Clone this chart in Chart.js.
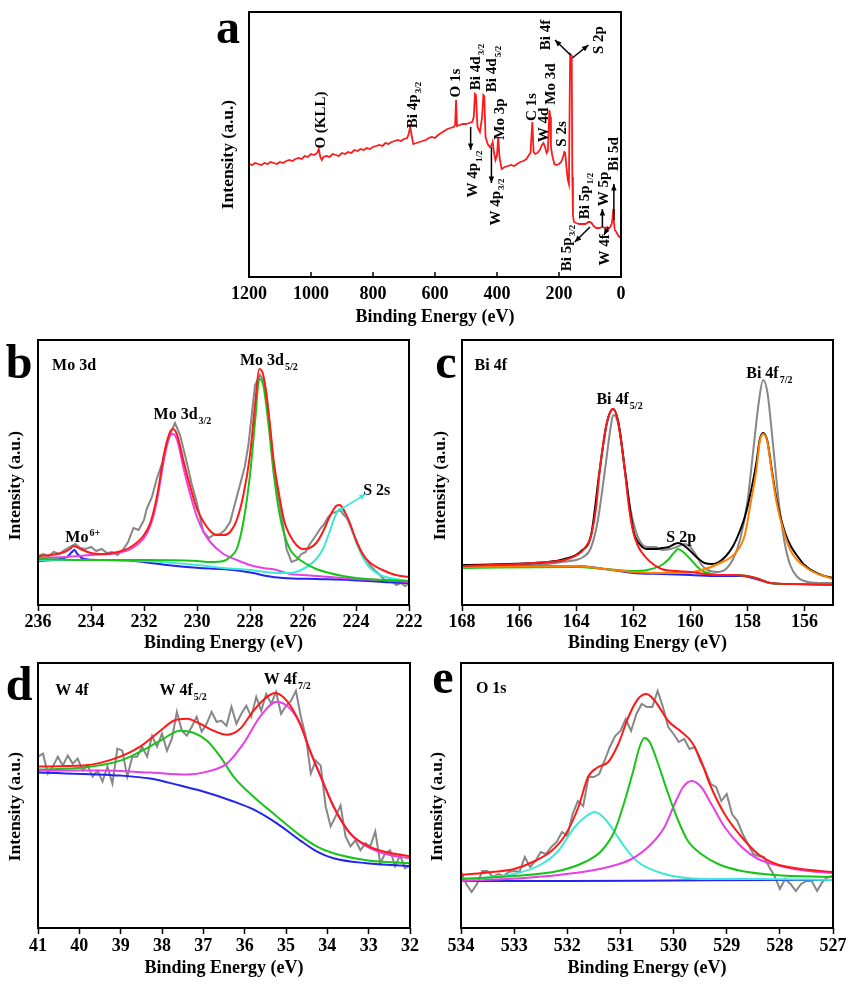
<!DOCTYPE html>
<html lang="en">
<head>
<meta charset="UTF-8">
<title>XPS spectra</title>
<script src="https://cdn.jsdelivr.net/npm/chart.js"></script>
<style>
  body { margin: 0; background: #fff; }
  #wrap { position: relative; width: 850px; height: 987px; background: #fff; overflow: hidden; }
  #wrap canvas { position: absolute; }
</style>
</head>
<body>
<div id="wrap">
  <canvas id="chartA" width="450" height="335" style="left:200px;top:0px"></canvas>
  <canvas id="chartB" width="425" height="335" style="left:0px;top:325px"></canvas>
  <canvas id="chartC" width="425" height="335" style="left:425px;top:325px"></canvas>
  <canvas id="chartD" width="425" height="339" style="left:0px;top:648px"></canvas>
  <canvas id="chartE" width="425" height="339" style="left:425px;top:648px"></canvas>
</div>
<script>
// ---- data: [binding energy (eV), intensity (a.u.)] ----
const aTicks = [1200, 1000, 800, 600, 400, 200, 0];
const aSurvey = [[1200,113],[1190,112],[1180,114],[1170,113],[1160,112],[1150,114],[1140,113],[1130,115],[1120,114],[1110,113],
  [1100,115],[1090,114],[1080,116],[1070,117],[1060,116],[1050,118],[1040,119],[1030,118],[1020,121],[1010,120],[1000,123],
  [990,122],[980,124],[975,128],[970,120],[965,117],[960,120],[950,121],[940,120],[930,123],[920,122],[910,121],[900,124],
  [890,123],[880,125],[870,124],[860,127],[850,126],[840,128],[830,127],[820,129],[810,128],[800,130],[790,131],[780,132],
  [770,131],[760,134],[750,133],[740,135],[730,136],[720,137],[710,136],[700,138],[690,139],[685,143],[680,150],[675,141],
  [670,133],[660,134],[650,135],[640,136],[630,137],[620,139],[610,140],[600,139],[590,142],[580,144],[570,146],[560,148],
  [550,149],[540,150],[535,152],[532,177],[529,151],[520,152],[510,153],[500,153],[490,154],[480,155],[475,160],[471,183],
  [468,182],[463,150],[455,145],[448,160],[444,182],[441,181],[437,140],[430,133],[423,130],[417,132],[414,135],[410,125],
  [405,117],[400,122],[396,140],[392,120],[385,108],[375,110],[365,111],[355,112],[345,111],[335,113],[325,115],[315,116],
  [305,118],[297,122],[292,124],[286,155],[282,125],[277,123],[270,124],[262,127],[255,132],[250,134],[245,130],[240,124],
  [236,126],[233,150],[231,167],[228,160],[226,130],[222,122],[215,113],[208,112],[200,113],[193,115],[187,120],[183,125],
  [180,124],[176,110],[172,98],[168,93],[166,160],[164,223],[161,222],[159,220],[157,100],[155,62],[152,55],[145,54],
  [135,53],[125,53],[115,53],[105,55],[100,55],[95,54],[88,51],[80,49],[70,49],[60,50],[52,49],[45,50],[40,48],[35,50],
  [30,53],[27,60],[25,68],[23,55],[20,47],[15,45],[10,42],[5,40],[0,39]];

const bTicks = [236, 234, 232, 230, 228, 226, 224, 222];
const bRed = [[236,46],[235.5,47],[235,50],[234.8,53],[234.65,56],[234.4,53],[234,49],[233.5,48],[233,50],[232.5,55],[232,67],
  [231.75,80],[231.5,107],[231.25,147],[231,171],[230.9,173],[230.75,167],[230.5,140],[230.25,115],[230,93],[229.75,80],
  [229.5,71],[229.25,67],[229,67],[228.75,70],[228.5,82],[228.25,107],[228,147],[227.8,200],[227.65,233],[227.5,227],
  [227.3,190],[227.1,140],[226.9,107],[226.7,80],[226.5,67],[226.25,57],[226,53],[225.75,54],[225.5,59],[225.25,70],
  [225,85],[224.75,96],[224.62,97],[224.5,94],[224.25,80],[224,62],[223.75,48],[223.5,40],[223,32],[222.5,27],[222,25]];
const bMagenta = [[236,44],[235,45],[234,47],[233,49],[232.5,53],[232,64],[231.75,77],[231.5,103],[231.25,142],[231,167],
  [230.9,168],[230.75,162],[230.5,133],[230.25,107],[230,85],[229.75,70],[229.5,60],[229,48],[228.5,42],[228,37],[227.5,34],
  [227,32],[226.5,28],[226,27],[225,25],[224,23],[223,22],[222,20]];
const bGreen = [[236,43],[234,42],[232,42],[230,41],[229.5,40],[229,41],[228.75,45],[228.5,53],[228.25,80],[228,127],
  [227.8,183],[227.65,223],[227.5,217],[227.3,177],[227.1,127],[226.9,90],[226.7,67],[226.5,53],[226.25,45],[226,40],
  [225.5,33],[225,29],[224.5,26],[224,24],[223,22],[222,21]];
const bCyan = [[236,42],[234,42],[232,41],[230,37],[229,34],[228,32],[227,29],[226.5,29],[226,33],[225.5,43],[225.25,53],
  [225,70],[224.75,88],[224.6,93],[224.4,88],[224.2,75],[224,60],[223.75,45],[223.5,35],[223,26],[222.5,23],[222,21]];
const bBlue = [[236,41],[235.16,43],[234.91,45],[234.72,50],[234.63,52],[234.51,48],[234.28,43],[233.65,42],[232.4,41],
  [231.14,37],[229.89,34],[228.63,32],[227.88,29],[227.37,26],[226.75,24],[225.49,23],[224.23,22],[222.98,20],[222,19]];
const bGray = [[236,46],[235.8,48],[235.6,46],[235.4,50],[235.2,48],[235,52],[234.8,55],[234.6,58],[234.4,54],[234.2,53],
  [234,55],[233.8,51],[233.6,53],[233.4,49],[233.2,50],[233,47],[232.8,52],[232.6,60],[232.4,74],[232.2,72],[232,82],
  [231.9,93],[231.7,105],[231.52,123],[231.3,140],[231.14,160],[230.95,172],[230.83,179],[230.64,167],[230.39,140],
  [230.2,118],[230.01,100],[229.76,70],[229.55,64],[229.38,67],[229.13,68],[228.95,72],[228.75,80],[228.55,100],
  [228.38,117],[228.2,135],[228.06,157],[227.81,217],[227.62,227],[227.45,220],[227.37,207],[227.12,140],[226.95,108],
  [226.81,87],[226.62,53],[226.43,40],[226.24,42],[226.06,48],[225.9,50],[225.74,58],[225.55,65],[225.36,73],[225.2,78],
  [225.05,85],[224.9,89],[224.74,90],[224.6,92],[224.49,88],[224.35,84],[224.23,77],[224.05,65],[223.86,53],[223.65,44],
  [223.48,37],[223.3,32],[223.1,27],[222.85,20],[222.7,22],[222.48,17],[222.3,19],[222.15,16],[222,18]];

const cTicks = [168, 166, 164, 162, 160, 158, 156];
const cRed = [[168,36],[167,37],[166,38],[165,40],[164.4,42],[163.82,50],[163.6,58],[163.47,67],[163.3,95],[163.18,130],
  [163.05,158],[162.94,177],[162.82,189],[162.71,193],[162.62,190],[162.53,180],[162.42,160],[162.3,133],[162.15,95],
  [162,70],[161.85,57],[161.71,50],[161.4,40],[161.01,33],[160.5,31],[160,30],[159.5,28],[159,27],[158.5,27],[158,26],
  [157.6,23],[157.2,19],[156.5,18],[155,17]];
const cOrange = [[168,35],[164,36],[163,33],[162,30],[161,29],[160.2,29],[159.61,32],[159.03,38],[158.39,50],[158.09,67],
  [157.88,100],[157.68,133],[157.57,160],[157.45,168],[157.3,160],[157.16,133],[156.98,100],[156.69,67],[156.46,50],
  [155.87,33],[155,23]];
const cBlack = [[168,37],[165,40],[164.4,43],[163.82,51],[163.47,68],[163.18,131],[162.94,177],[162.71,193],[162.53,181],
  [162.3,134],[162,72],[161.75,57],[161.5,53],[161.2,53],[161,54],[160.75,55],[160.55,58],[160.43,59],[160.25,57],
  [160,51],[159.75,44],[159.5,39],[159.25,38],[159,40],[158.75,46],[158.5,56],[158.25,72],[158.09,85],[157.88,110],
  [157.68,140],[157.57,162],[157.45,169],[157.3,161],[157.16,135],[156.98,103],[156.69,70],[156.46,55],[156.25,46],
  [156,37],[155.5,28],[155,24]];
const cGreen = [[168,34],[164,35],[163,33],[162,31],[161.5,32],[161,37],[160.75,43],[160.55,50],[160.43,53],[160.25,50],
  [160,43],[159.75,35],[159.5,30],[159,27],[158.5,27],[158,26],[157.6,23],[157.2,19],[156.8,18],[155,18]];
const cBlue = [[168,36],[166,36],[164,36],[163.5,35],[163,33],[162.5,31],[162,29],[161,28],[160,27],[159,26],[158.2,26],
  [157.7,23],[157.2,19],[156.8,18],[156,18],[155,17]];
const cGray = [[168,37],[166,37],[165,38],[164.5,40],[164,42],[163.75,45],[163.5,53],[163.25,80],[163,130],[162.8,173],
  [162.7,187],[162.6,185],[162.45,167],[162.3,133],[162.1,93],[161.9,70],[161.7,58],[161.5,55],[161.2,55],[161,52],
  [160.7,53],[160.4,56],[160.2,58],[160,55],[159.8,47],[159.6,37],[159.4,32],[159,30],[158.75,33],[158.5,43],
  [158.25,63],[158,100],[157.8,150],[157.6,200],[157.45,222],[157.3,210],[157.1,157],[156.9,100],[156.7,60],[156.5,37],
  [156.25,25],[156,21],[155.5,19],[155,19]];

const dTicks = [41, 40, 39, 38, 37, 36, 35, 34, 33, 32];
const dRed = [[41,162],[39.9,163],[39.01,172],[38.53,182],[38.04,198],[37.72,208],[37.4,210],[37.08,205],[36.75,198],
  [36.43,194],[36.11,200],[35.79,218],[35.46,232],[35.26,236],[34.98,228],[34.66,205],[34.42,178],[34.09,145],
  [33.85,122],[33.45,95],[33.05,83],[32.56,76],[32,72]];
const dMagenta = [[41,158],[39.49,158],[38.28,156],[37.4,154],[36.91,157],[36.43,165],[36.03,185],[35.63,212],[35.22,227],
  [34.9,220],[34.66,205],[34.42,178],[34.09,145],[33.85,122],[33.45,95],[33.05,82],[32.56,74],[32,70]];
const dGreen = [[41,159],[39.9,161],[39.01,168],[38.53,177],[38.04,188],[37.56,198],[37.24,196],[36.91,188],[36.59,172],
  [36.27,152],[35.79,132],[35.22,112],[34.66,93],[34.26,82],[33.85,75],[33.05,68],[32,65]];
const dBlue = [[41,156],[39,153],[38.28,150],[37.56,143],[37.08,138],[36.27,127],[35.79,119],[35.22,105],[34.66,88],
  [34.26,77],[33.85,70],[33.05,65],[32,62]];
const dGrayX = [41,40.88,40.76,40.64,40.52,40.4,40.28,40.16,40.04,39.92,39.8,39.68,39.56,39.44,39.32,39.2,39.08,38.96,
  38.84,38.72,38.6,38.48,38.36,38.24,38.12,38,37.88,37.76,37.64,37.52,37.4,37.28,37.16,37.04,36.92,36.8,36.68,36.56,
  36.44,36.32,36.2,36.08,35.96,35.84,35.72,35.6,35.48,35.36,35.24,35.12,35,34.88,34.76,34.64,34.52,34.4,34.28,34.16,
  34.04,33.92,33.8,33.68,33.56,33.44,33.32,33.2,33.08,32.96,32.84,32.72,32.6,32.48,32.36,32.24,32.12,32];
const dGrayY = [172,175,155,162,172,163,173,165,170,158,163,152,158,147,162,145,180,178,152,172,172,182,172,193,182,195,
  178,190,217,198,193,202,212,197,205,217,207,208,203,222,205,215,223,212,232,218,235,225,237,215,223,228,238,212,192,
  155,168,163,122,102,112,123,92,82,88,78,85,82,97,65,75,78,62,73,60,63];

const eTicks = [534, 533, 532, 531, 530, 529, 528, 527];
const eRed = [[534,53],[533.42,56],[533,59],[532.61,67],[532.3,77],[532.05,92],[531.79,121],[531.61,151],[531.42,161],
  [531.23,166],[531.04,184],[530.85,211],[530.67,229],[530.51,234],[530.35,227],[530.1,207],[529.85,196],[529.66,186],
  [529.48,167],[529.32,144],[529.04,114],[528.72,91],[528.41,74],[528.07,64],[527.6,59],[527,56]];
const eGreen = [[534,49],[533,52],[532.17,57],[531.67,66],[531.36,77],[531.11,97],[530.92,127],[530.76,157],[530.64,181],
  [530.55,190],[530.45,186],[530.29,164],[530.1,134],[529.91,107],[529.73,87],[529.48,74],[529.16,64],[528.72,57],
  [528.1,53],[527,51]];
const eMagenta = [[534,47],[532.8,50],[531.86,55],[531.23,61],[530.79,69],[530.42,84],[530.17,101],[529.98,124],
  [529.82,141],[529.66,147],[529.48,141],[529.29,124],[529.04,101],[528.72,81],[528.41,69],[527.91,61],[527.47,57],[527,55]];
const eCyan = [[534,48],[533,54],[532.48,64],[532.17,77],[531.86,101],[531.64,112],[531.48,116],[531.29,109],[531.11,96],
  [530.92,81],[530.67,66],[530.29,56],[529.91,51],[529.35,49],[528.41,49],[527,48]];
const eBlue = [[534,47],[532,47],[530,47.5],[528,48],[527,48]];
const eGrayX = [534,533.9,533.8,533.7,533.6,533.5,533.4,533.3,533.2,533.1,533,532.9,532.8,532.7,532.6,532.5,532.4,532.3,
  532.2,532.1,532,531.9,531.8,531.7,531.6,531.5,531.4,531.3,531.2,531.1,531,530.9,530.8,530.7,530.6,530.5,530.4,530.3,
  530.2,530.1,530,529.9,529.8,529.7,529.6,529.5,529.4,529.3,529.2,529.1,529,528.9,528.8,528.7,528.6,528.5,528.4,528.3,
  528.2,528.1,528,527.9,527.8,527.7,527.6,527.5,527.4,527.3,527.2,527.1,527];
const eGrayY = [56,44,36,44,57,57,51,54,52,56,57,56,71,61,67,76,74,81,86,96,92,114,127,122,151,151,154,167,181,192,
  197,209,197,214,224,221,221,237,221,201,194,186,189,179,181,167,157,144,141,127,134,114,107,94,84,74,72,71,61,52,
  39,49,44,37,44,47,47,37,46,51,52];

// ---- annotations (data coordinates) ----
const aLabels = [
  {x: 972, y: 157, t: 'O (KLL)'}, {x: 674, y: 172, t: 'Bi 4p', sub: '3/2'}, {x: 534, y: 194, t: 'O 1s'},
  {x: 471, y: 210, t: 'Bi 4d', sub: '3/2'}, {x: 418, y: 208, t: 'Bi 4d', sub: '5/2'}, {x: 393, y: 158, t: 'Mo 3p'},
  {x: 479, y: 103, t: 'W 4p', sub: '1/2'}, {x: 407, y: 75, t: 'W 4p', sub: '3/2'}, {x: 291, y: 170, t: 'C 1s'},
  {x: 251, y: 152, t: 'W 4d'}, {x: 229, y: 193, t: 'Mo 3d'}, {x: 194, y: 143, t: 'S 2s'}, {x: 245, y: 242, t: 'Bi 4f'},
  {x: 73, y: 237, t: 'S 2p'}, {x: 25, y: 123, t: 'Bi 5d'}, {x: 57, y: 88, t: 'W 5p'}, {x: 119, y: 81, t: 'Bi 5p', sub: '1/2'},
  {x: 178, y: 29, t: 'Bi 5p', sub: '3/2'}, {x: 55, y: 27, t: 'W 4f'}
];
const aArrows = [[485,150,485,127],[418,130,418,94],[163,222,213,237],[157,219,105,232],[23,57,23,93],[60,50,60,68],
  [100,50,149,35],[41,50,55,42]];
const bLabels = [
  {x: 235.47, y: 237, t: 'Mo 3d'}, {x: 231.64, y: 188, t: 'Mo 3d', sub: '3/2'}, {x: 228.38, y: 242, t: 'Mo 3d', sub: '5/2'},
  {x: 223.73, y: 112, t: 'S 2s'}, {x: 234.97, y: 65, t: 'Mo', sup: '6+'}
];
const bArrows = [[224.61, 92, 223.63, 108, '#3ee8d5']];
const cLabels = [
  {x: 167.56, y: 237, t: 'Bi 4f'}, {x: 163.29, y: 203, t: 'Bi 4f', sub: '5/2'}, {x: 160.84, y: 65, t: 'S 2p'},
  {x: 158.04, y: 229, t: 'Bi 4f', sub: '7/2'}
];
const dLabels = [
  {x: 40.58, y: 239, t: 'W 4f'}, {x: 38.06, y: 239, t: 'W 4f', sub: '5/2'}, {x: 35.54, y: 250, t: 'W 4f', sub: '7/2'}
];
const eLabels = [{x: 533.72, y: 240, t: 'O 1s'}];

// ---- drawing ----
const SERIF = "'Liberation Serif', 'Times New Roman', serif";
const RED = '#ff1a1a', GRAY = '#878787', GREEN = '#18c418', MAGENTA = '#e640e6',
      CYAN = '#3ee8d5', BLUE = '#2424f0', ORANGE = '#ff8000';

function drawRich(ctx, item, x, y, size, align) {
  const mainFont = `bold ${size}px ${SERIF}`;
  const smallFont = `bold ${Math.round(size * 0.62)}px ${SERIF}`;
  ctx.font = mainFont;
  const w1 = ctx.measureText(item.t).width;
  const extra = item.sub || item.sup || '';
  ctx.font = smallFont;
  const w2 = extra ? ctx.measureText(extra).width + 1 : 0;
  const x0 = align === 'center' ? x - (w1 + w2) / 2 : x;
  const base = y + size * 0.33;
  ctx.textAlign = 'left';
  ctx.textBaseline = 'alphabetic';
  ctx.font = mainFont;
  ctx.fillText(item.t, x0, base);
  ctx.font = smallFont;
  if (item.sub) ctx.fillText(item.sub, x0 + w1 + 1, base + size * 0.28);
  if (item.sup) ctx.fillText(item.sup, x0 + w1 + 1, base - size * 0.42);
}

function drawArrow(ctx, x1, y1, x2, y2, color) {
  ctx.strokeStyle = color;
  ctx.fillStyle = color;
  ctx.lineWidth = 1.5;
  ctx.beginPath(); ctx.moveTo(x1, y1); ctx.lineTo(x2, y2); ctx.stroke();
  const a = Math.atan2(y2 - y1, x2 - x1), h = 7;
  ctx.beginPath();
  ctx.moveTo(x2, y2);
  ctx.lineTo(x2 - h * Math.cos(a - 0.4), y2 - h * Math.sin(a - 0.4));
  ctx.lineTo(x2 - h * Math.cos(a + 0.4), y2 - h * Math.sin(a + 0.4));
  ctx.closePath(); ctx.fill();
}

// box, panel letter, y title, peak labels and arrows
const framePlugin = {
  id: 'frame',
  afterDatasetsDraw(chart, args, opts) {
    const {ctx, chartArea: a, scales: {x, y}} = chart;
    ctx.save();
    ctx.fillStyle = '#000';
    (opts.labels || []).forEach(l => {
      const px = x.getPixelForValue(l.x), py = y.getPixelForValue(l.y);
      ctx.fillStyle = '#000';
      if (opts.rotate) {
        ctx.save();
        ctx.translate(px, py);
        ctx.rotate(-Math.PI / 2);
        drawRich(ctx, l, 0, 0, opts.labelSize, 'center');
        ctx.restore();
      } else {
        drawRich(ctx, l, px, py, opts.labelSize, 'left');
      }
    });
    (opts.arrows || []).forEach(r => drawArrow(ctx, x.getPixelForValue(r[0]), y.getPixelForValue(r[1]),
      x.getPixelForValue(r[2]), y.getPixelForValue(r[3]), r[4] || '#000'));

    ctx.strokeStyle = '#000';
    if (opts.inTicks) {
      ctx.lineWidth = 1.5;
      x.ticks.forEach(t => {
        const px = x.getPixelForValue(t.value);
        ctx.beginPath(); ctx.moveTo(px, a.bottom); ctx.lineTo(px, a.bottom - 5); ctx.stroke();
      });
    }
    ctx.lineWidth = 2;
    ctx.strokeRect(a.left, a.top, a.right - a.left, a.bottom - a.top);

    ctx.fillStyle = '#000';
    ctx.font = `bold 48px ${SERIF}`;
    ctx.textAlign = 'center';
    ctx.textBaseline = 'alphabetic';
    ctx.fillText(opts.letter, a.left + opts.letterAt[0], a.top + opts.letterAt[1]);

    ctx.save();
    ctx.translate(a.left + opts.yTitleAt[0], (a.top + a.bottom) / 2 + opts.yTitleAt[1]);
    ctx.rotate(-Math.PI / 2);
    ctx.font = `bold 17.5px ${SERIF}`;
    ctx.textBaseline = 'middle';
    ctx.fillText('Intensity (a.u.)', 0, 0);
    ctx.restore();
    ctx.restore();
  }
};

function series(points, color, smooth, width) {
  return {
    data: points.map(p => ({x: p[0], y: p[1]})),
    showLine: true,
    borderColor: color,
    borderWidth: width || 2,
    pointRadius: 0,
    fill: false,
    cubicInterpolationMode: smooth ? 'monotone' : 'default',
    tension: 0
  };
}

function zip(xs, ys) { return xs.map((v, i) => [v, ys[i]]); }

function makeChart(id, p) {
  return new Chart(document.getElementById(id), {
    type: 'scatter',
    data: {datasets: p.datasets},
    options: {
      responsive: false,
      animation: false,
      devicePixelRatio: 1,
      layout: {padding: {left: p.pad[0], top: p.pad[1], right: p.pad[2], bottom: 0}},
      scales: {
        x: {
          type: 'linear', reverse: true, min: p.xMin, max: p.xMax,
          afterBuildTicks: s => { s.ticks = p.ticks.map(v => ({value: v})); },
          afterFit: s => { s.height = p.axisH; },
          ticks: {autoSkip: false, maxRotation: 0, padding: p.tickPad, color: '#000',
                  font: {family: SERIF, size: 18, weight: 'bold'}, callback: v => String(v)},
          grid: {display: true, drawOnChartArea: false, drawTicks: !p.frame.inTicks, tickLength: 6,
                 tickWidth: 1.5, tickColor: '#000', color: '#000'},
          border: {display: false},
          title: {display: true, text: 'Binding Energy (eV)', color: '#000',
                  font: {family: SERIF, size: 18, weight: 'bold'}, padding: {top: 0, bottom: p.titlePad}}
        },
        y: {display: false, min: p.yMin, max: p.yMax}
      },
      plugins: {legend: {display: false}, tooltip: {enabled: false}, frame: p.frame}
    },
    plugins: [framePlugin]
  });
}

makeChart('chartA', {
  datasets: [series(aSurvey, RED, false, 1.8)],
  xMin: 0, xMax: 1200, yMin: 0, yMax: 265, ticks: aTicks,
  pad: [49, 12, 29], axisH: 58, tickPad: 7, titlePad: 7,
  frame: {letter: 'a', letterAt: [-21, 31], yTitleAt: [-21, 10], labels: aLabels, arrows: aArrows,
          labelSize: 15, rotate: true, inTicks: true}
});

makeChart('chartB', {
  datasets: [series(bRed, RED, true), series(bGreen, GREEN, true), series(bCyan, CYAN, true),
             series(bMagenta, MAGENTA, true), series(bBlue, BLUE, true), series(bGray, GRAY, false)],
  xMin: 222, xMax: 236, yMin: -3, yMax: 262, ticks: bTicks,
  pad: [38, 15, 16], axisH: 55, tickPad: 1, titlePad: 6,
  frame: {letter: 'b', letterAt: [-19, 38], yTitleAt: [-23, 13], labels: bLabels, arrows: bArrows, labelSize: 16}
});

makeChart('chartC', {
  datasets: [series(cRed, RED, true), series(cOrange, ORANGE, true), series(cGreen, GREEN, true),
             series(cBlue, BLUE, true), series(cBlack, '#000', true), series(cGray, GRAY, true)],
  xMin: 155, xMax: 168, yMin: -3, yMax: 262, ticks: cTicks,
  pad: [37, 15, 17], axisH: 55, tickPad: 1, titlePad: 6,
  frame: {letter: 'c', letterAt: [-16, 38], yTitleAt: [-22, 13], labels: cLabels, labelSize: 16}
});

makeChart('chartD', {
  datasets: [series(dRed, RED, true), series(dMagenta, MAGENTA, true), series(dGreen, GREEN, true),
             series(dBlue, BLUE, true), series(zip(dGrayX, dGrayY), GRAY, false)],
  xMin: 32, xMax: 41, yMin: 0, yMax: 266, ticks: dTicks,
  pad: [38, 15, 15], axisH: 59, tickPad: 2, titlePad: 8,
  frame: {letter: 'd', letterAt: [-19, 37], yTitleAt: [-23, 11], labels: dLabels, labelSize: 16}
});

makeChart('chartE', {
  datasets: [series(eRed, RED, true), series(eGreen, GREEN, true), series(eMagenta, MAGENTA, true),
             series(eCyan, CYAN, true), series(eBlue, BLUE, true), series(zip(eGrayX, eGrayY), GRAY, false)],
  xMin: 527, xMax: 534, yMin: 0, yMax: 265, ticks: eTicks,
  pad: [36, 15, 17], axisH: 59, tickPad: 2, titlePad: 8,
  frame: {letter: 'e', letterAt: [-18, 30], yTitleAt: [-24, 11], labels: eLabels, labelSize: 16}
});
</script>
</body>
</html>
